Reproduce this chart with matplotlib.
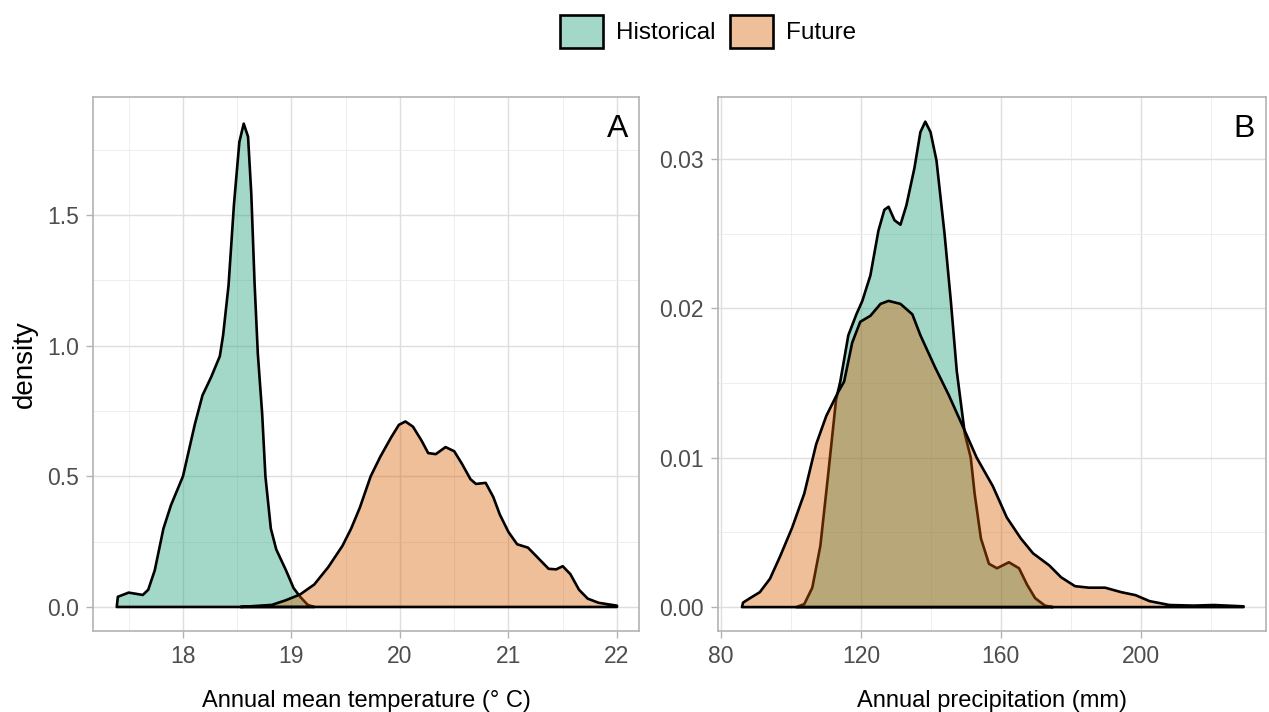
import matplotlib.pyplot as plt
from matplotlib.patches import Patch
from matplotlib.ticker import MultipleLocator

plt.rcParams['font.family'] = ['Liberation Sans', 'DejaVu Sans']

# panel A: annual mean temperature density
temp_hist_x = [17.39, 17.40, 17.50, 17.63, 17.68, 17.74, 17.82, 17.89, 18.00, 18.11,
               18.18, 18.26, 18.34, 18.37, 18.42, 18.47, 18.52, 18.56, 18.60, 18.63,
               18.66, 18.69, 18.73, 18.76, 18.81, 18.86, 18.95, 19.02, 19.08, 19.15, 19.21]
temp_hist_d = [0.0, 0.039, 0.055, 0.046, 0.066, 0.14, 0.30, 0.39, 0.50, 0.70,
               0.81, 0.88, 0.96, 1.04, 1.23, 1.54, 1.78, 1.85, 1.80, 1.58,
               1.24, 0.97, 0.74, 0.50, 0.30, 0.22, 0.14, 0.072, 0.039, 0.008, 0.0]

temp_fut_x = [18.53, 18.82, 18.95, 19.08, 19.21, 19.34, 19.47, 19.55, 19.63, 19.73,
              19.82, 19.92, 19.99, 20.05, 20.12, 20.20, 20.26, 20.33, 20.42, 20.50,
              20.57, 20.65, 20.70, 20.79, 20.86, 20.92, 21.00, 21.08, 21.18, 21.26,
              21.37, 21.44, 21.50, 21.57, 21.65, 21.73, 21.83, 22.00]
temp_fut_d = [0.0, 0.008, 0.026, 0.048, 0.086, 0.153, 0.234, 0.30, 0.38, 0.50,
              0.576, 0.65, 0.697, 0.71, 0.69, 0.636, 0.589, 0.585, 0.612, 0.596,
              0.549, 0.489, 0.471, 0.475, 0.421, 0.354, 0.287, 0.240, 0.227, 0.193,
              0.146, 0.144, 0.156, 0.126, 0.066, 0.032, 0.016, 0.005]

# panel B: annual precipitation density
prec_hist_x = [101.5, 103.8, 106.1, 108.4, 110.6, 112.9, 114.1, 116.4, 118.7, 120.4,
               122.7, 125.0, 126.7, 127.9, 129.6, 131.3, 133.0, 135.3, 137.0, 138.4,
               139.9, 141.6, 143.9, 145.7, 147.4, 149.7, 151.4, 152.5, 154.3, 156.6,
               158.9, 162.3, 165.2, 167.5, 169.8, 172.6, 174.9]
prec_hist_d = [0.0, 0.0002, 0.0013, 0.0041, 0.0088, 0.0139, 0.0151, 0.0182, 0.0196, 0.0205,
               0.0222, 0.0252, 0.0266, 0.0268, 0.0259, 0.0256, 0.0269, 0.0294, 0.0318, 0.0325,
               0.0318, 0.0299, 0.0250, 0.0205, 0.0158, 0.0116, 0.0100, 0.0076, 0.0046, 0.0029,
               0.0026, 0.0030, 0.0026, 0.0015, 0.0006, 0.0001, 0.0]

prec_fut_x = [86.0, 86.3, 88.3, 91.1, 94.0, 96.9, 100.3, 103.8, 107.2, 110.1,
              113.5, 115.2, 117.5, 119.8, 122.7, 125.6, 127.9, 131.3, 134.7, 137.0,
              141.1, 145.1, 149.7, 153.1, 157.7, 161.7, 165.7, 169.2, 173.8, 177.2,
              181.2, 185.2, 189.8, 194.4, 198.5, 202.5, 208.2, 215.1, 220.9, 229.4]
prec_fut_d = [0.0, 0.0003, 0.0006, 0.0010, 0.0019, 0.0034, 0.0053, 0.0076, 0.0109, 0.0128,
              0.0144, 0.0151, 0.0177, 0.0191, 0.0195, 0.0203, 0.0205, 0.0203, 0.0196, 0.0182,
              0.0161, 0.0142, 0.0118, 0.0100, 0.0081, 0.0060, 0.0046, 0.0036, 0.0028, 0.0020,
              0.0014, 0.0013, 0.0013, 0.0010, 0.0008, 0.0004, 0.00014, 0.0001, 0.00014, 0.00005]

groups = ['Historical', 'Future']
colors = {'Historical': (27/255, 158/255, 119/255, 0.4),
          'Future': (217/255, 95/255, 2/255, 0.4)}

fig = plt.figure(figsize=(12.69, 7.12), dpi=100)
axA = fig.add_axes([93/1269, 1 - 631/712, 546/1269, 534/712])
axB = fig.add_axes([718/1269, 1 - 631/712, 548/1269, 534/712])


def density(ax, x, d, group):
    # close the polygon along the baseline like geom_density
    xs = [x[0]] + list(x) + [x[-1]]
    ys = [0.0] + list(d) + [0.0]
    ax.fill(xs, ys, facecolor=colors[group], edgecolor='black', lw=1.9,
            joinstyle='round', zorder=3)


def style(ax, major_x, minor_x, major_y, minor_y):
    ax.xaxis.set_major_locator(MultipleLocator(major_x))
    ax.xaxis.set_minor_locator(MultipleLocator(minor_x))
    ax.yaxis.set_major_locator(MultipleLocator(major_y))
    ax.yaxis.set_minor_locator(MultipleLocator(minor_y))
    ax.grid(which='major', color='#dedede', lw=1.0, zorder=0)
    ax.grid(which='minor', color='#ebebeb', lw=0.6, zorder=0)
    ax.set_axisbelow(True)
    for s in ax.spines.values():
        s.set_color('#b3b3b3')
        s.set_linewidth(1.2)
    ax.tick_params(which='major', length=5, width=1, color='#b3b3b3',
                   labelcolor='#4d4d4d', labelsize=16.5, pad=5)
    ax.tick_params(which='minor', length=0)


density(axA, temp_hist_x, temp_hist_d, 'Historical')
density(axA, temp_fut_x, temp_fut_d, 'Future')
density(axB, prec_hist_x, prec_hist_d, 'Historical')
density(axB, prec_fut_x, prec_fut_d, 'Future')

style(axA, 1, 0.5, 0.5, 0.25)
style(axB, 40, 20, 0.01, 0.005)

axA.set_xlim(17.171, 22.203)
axA.set_ylim(-0.092, 1.952)
axB.set_xlim(79.14, 235.8)
axB.set_ylim(-0.0016, 0.03415)
axA.yaxis.set_major_formatter(plt.FuncFormatter(lambda v, p: f'{v:.1f}'))
axB.yaxis.set_major_formatter(plt.FuncFormatter(lambda v, p: f'{v:.2f}'))

axA.set_xlabel('Annual mean temperature (° C)', fontsize=17, labelpad=16)
axB.set_xlabel('Annual precipitation (mm)', fontsize=17, labelpad=16)
axA.set_ylabel('density', fontsize=20, labelpad=7)

axA.text(0.96, 0.94, 'A', transform=axA.transAxes, fontsize=23,
         ha='center', va='center')
axB.text(0.96, 0.94, 'B', transform=axB.transAxes, fontsize=23,
         ha='center', va='center')

handles = [Patch(facecolor=colors[g], edgecolor='black', lw=1.9) for g in groups]
fig.legend(handles, groups, loc='center', bbox_to_anchor=(0.558, 0.956), ncol=2,
           frameon=False, fontsize=17.5, handlelength=1.75, handleheight=1.75,
           handletextpad=0.55, columnspacing=0.6)

fig.savefig('out.png', dpi=100)
